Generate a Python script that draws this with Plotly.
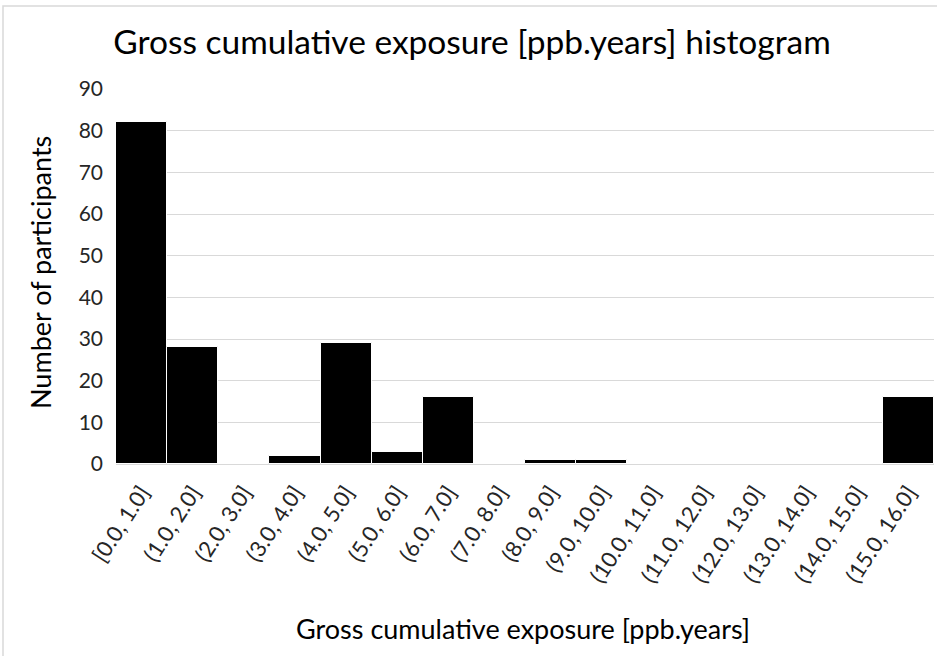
import plotly.graph_objects as go

categories = ["[0.0, 1.0]", "(1.0, 2.0]", "(2.0, 3.0]", "(3.0, 4.0]", "(4.0, 5.0]",
              "(5.0, 6.0]", "(6.0, 7.0]", "(7.0, 8.0]", "(8.0, 9.0]", "(9.0, 10.0]",
              "(10.0, 11.0]", "(11.0, 12.0]", "(12.0, 13.0]", "(13.0, 14.0]",
              "(14.0, 15.0]", "(15.0, 16.0]"]
counts = [82, 28, 0, 2, 29, 3, 16, 0, 1, 1, 0, 0, 0, 0, 0, 16]
y_ticks = [0, 10, 20, 30, 40, 50, 60, 70, 80, 90]

W, H = 937, 656
L, R, T, B = 116, 3, 89, 192
FONT = "Lato"
PW, PH = W - L - R, H - T - B

fig = go.Figure(go.Bar(
    x=categories, y=counts,
    marker=dict(color="black", line=dict(color="white", width=1)),
))

fig.update_layout(
    width=W, height=H,
    margin=dict(l=L, r=R, t=T, b=B, autoexpand=False),
    paper_bgcolor="white", plot_bgcolor="white",
    bargap=0,
    showlegend=False,
    font=dict(family=FONT, color="#262626"),
    title=dict(text="Gross cumulative exposure [ppb.years] histogram",
               x=472 / W, xanchor="center", y=1 - 42 / H, yanchor="middle",
               font=dict(size=33.5, family=FONT, color="black")),
    xaxis=dict(tickangle=-57, tickfont=dict(size=22, color="#262626"),
               showline=True, linecolor="#d9d9d9", linewidth=1,
               ticks="", showgrid=False, ticklabelstandoff=6),
    yaxis=dict(range=[0, 90], tickvals=y_ticks, tickfont=dict(size=21, color="#262626"),
               showgrid=True, gridcolor="#d9d9d9", gridwidth=1, zeroline=False,
               ticks="", ticklabelstandoff=12),
    annotations=[
        dict(text="Gross cumulative exposure [ppb.years]", xref="paper", yref="paper",
             x=(523 - L) / PW, y=-(628 - (H - B)) / PH, xanchor="center", yanchor="middle",
             showarrow=False, font=dict(size=27, color="black")),
        dict(text="Number of participants", xref="paper", yref="paper",
             x=-(L - 40) / PW, y=(H - B - 273) / PH, xanchor="center", yanchor="middle",
             textangle=-90, showarrow=False, font=dict(size=27, color="black")),
    ],
    shapes=[dict(type="rect", xref="paper", yref="paper",
                 x0=(3 - L) / PW, x1=(937 + 5 - L) / PW,
                 y0=-1, y1=(H - B - 6) / PH,
                 line=dict(color="#d9d9d9", width=1.5), fillcolor="rgba(0,0,0,0)",
                 layer="below")],
)

fig.write_html("out.html", config={"displayModeBar": False},
               post_script="document.body.style.margin='0px';document.body.style.overflow='hidden';")
